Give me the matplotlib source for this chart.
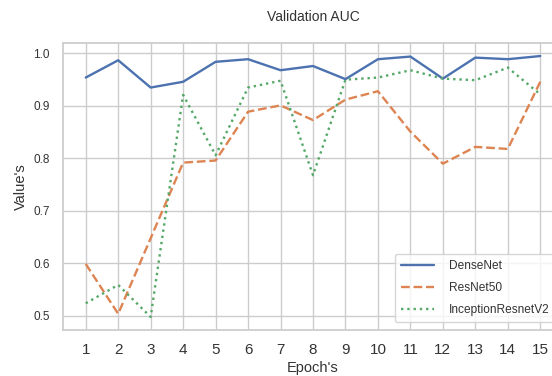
import numpy as np
import matplotlib
matplotlib.use("Agg")
import matplotlib.pyplot as plt
import seaborn as sns

epochs = list(range(1, 16))
densenet = [0.954, 0.987, 0.935, 0.946, 0.984, 0.989, 0.968, 0.976, 0.951, 0.989, 0.994, 0.952, 0.992, 0.989, 0.995]
resnet50 = [0.599, 0.504, 0.648, 0.792, 0.796, 0.889, 0.901, 0.873, 0.912, 0.928, 0.851, 0.790, 0.822, 0.818, 0.946]
inception = [0.524, 0.559, 0.498, 0.921, 0.806, 0.935, 0.948, 0.768, 0.950, 0.954, 0.968, 0.952, 0.949, 0.973, 0.922]

sns.set_theme(style="whitegrid")
plt.rcParams['font.family'] = ['Liberation Sans', 'DejaVu Sans']

fig = plt.figure(figsize=(5.52, 3.76), dpi=100)
ax = fig.add_axes([63/552, 1 - 330/376, 500/552, 287/376])

ax.plot(epochs, densenet, color="#4C72B0", linestyle="-", linewidth=1.7, label="DenseNet")
ax.plot(epochs, resnet50, color="#DD8452", linestyle="--", linewidth=1.7, label="ResNet50")
ax.plot(epochs, inception, color="#55A868", linestyle=":", linewidth=1.7, label="InceptionResnetV2")

ax.set_xticks(epochs)
ax.tick_params(axis="x", labelsize=11, colors="#333333")
ax.tick_params(axis="y", labelsize=8.5, colors="#333333")
ax.set_xlabel("Epoch's", fontsize=10.5, labelpad=3, color="#333333")
ax.set_ylabel("Value's", fontsize=10.5, labelpad=4, color="#333333")
ax.set_title("Validation AUC", fontsize=10, pad=16, color="#333333")
leg = ax.legend(loc="lower left", bbox_to_anchor=(395/552, 1 - 322/376),
                bbox_transform=fig.transFigure, fontsize=8.6,
                handlelength=2.8, handletextpad=1.2, labelspacing=0.85,
                borderpad=0.5, borderaxespad=0)
for t in leg.get_texts():
    t.set_color("#333333")

fig.savefig("out.png", dpi=100)
